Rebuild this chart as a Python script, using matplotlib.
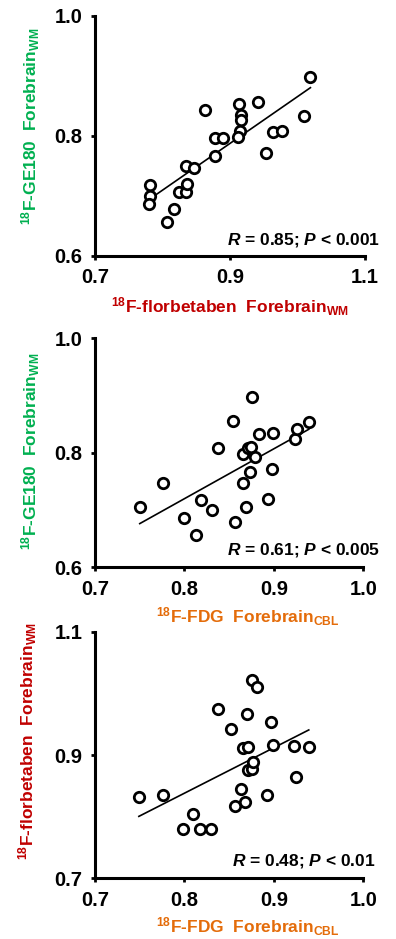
import numpy as np
import matplotlib
matplotlib.use('Agg')
from matplotlib import pyplot as plt

plt.rcParams['font.family'] = ['Liberation Sans', 'DejaVu Sans']
plt.rcParams['font.weight'] = 'bold'
plt.rcParams['mathtext.fontset'] = 'custom'
plt.rcParams['mathtext.rm'] = 'Liberation Sans:bold'
plt.rcParams['mathtext.bf'] = 'Liberation Sans:bold'
plt.rcParams['mathtext.it'] = 'Liberation Sans:italic:bold'

GREEN = '#00B050'
RED = '#C00000'
ORANGE = '#E46C0A'

# Panel 1: florbetaben vs GE180
fbb_wm = [0.781, 0.781, 0.780, 0.806, 0.817, 0.825, 0.834, 0.836, 0.834, 0.847,
          0.863, 0.877, 0.878, 0.890, 0.913, 0.916, 0.916, 0.915, 0.911, 0.941,
          0.953, 0.964, 0.977, 1.010, 1.019]
ge_wm_1 = [0.718, 0.700, 0.686, 0.657, 0.678, 0.706, 0.706, 0.720, 0.750, 0.746,
           0.843, 0.767, 0.797, 0.796, 0.853, 0.835, 0.827, 0.809, 0.799, 0.857,
           0.771, 0.807, 0.808, 0.834, 0.898]

# Panel 2: FDG vs GE180
fdg_2 = [0.750, 0.776, 0.799, 0.813, 0.818, 0.831, 0.838, 0.854, 0.857, 0.865,
         0.869, 0.866, 0.871, 0.874, 0.879, 0.873, 0.876, 0.883, 0.893, 0.898,
         0.899, 0.924, 0.926, 0.939]
ge_wm_2 = [0.706, 0.748, 0.686, 0.656, 0.717, 0.700, 0.809, 0.856, 0.679, 0.747,
           0.706, 0.798, 0.808, 0.811, 0.793, 0.766, 0.897, 0.833, 0.720, 0.771,
           0.835, 0.825, 0.841, 0.853]

# Panel 3: FDG vs florbetaben
fdg_3 = [0.749, 0.776, 0.798, 0.810, 0.817, 0.830, 0.838, 0.852, 0.857, 0.863,
         0.868, 0.865, 0.871, 0.870, 0.871, 0.875, 0.877, 0.875, 0.881, 0.892,
         0.897, 0.899, 0.923, 0.925, 0.939]
fbb_wm_3 = [0.832, 0.835, 0.780, 0.804, 0.780, 0.780, 0.975, 0.942, 0.817, 0.845,
            0.824, 0.911, 0.913, 0.966, 0.876, 0.877, 0.888, 1.022, 1.011, 0.835,
            0.953, 0.916, 0.915, 0.864, 0.913]

stats = ['$R$ = 0.85; $P$ < 0.001', '$R$ = 0.61; $P$ < 0.005', '$R$ = 0.48; $P$ < 0.01']

lbl_ge = (r'$^{18}$F-GE180  Forebrain$_{\mathrm{WM}}$', GREEN)
lbl_fbb = (r'$^{18}$F-florbetaben  Forebrain$_{\mathrm{WM}}$', RED)
lbl_fdg = (r'$^{18}$F-FDG  Forebrain$_{\mathrm{CBL}}$', ORANGE)

panels = [
    # x, y, rect, xticks, yticks, xlabel, ylabel, stat, stat pos, xlabel pos, ylabel pos
    (fbb_wm, ge_wm_1, [0.240, 0.7274, 0.682, 0.2556], [0.7, 0.9, 1.1], [0.6, 0.8, 1.0],
     lbl_fbb, lbl_ge, stats[0], (1.056, 0.046), (0.50, -0.165), (-0.24, 0.54)),
    (fdg_2, ge_wm_2, [0.240, 0.3958, 0.6775, 0.2439], [0.7, 0.8, 0.9, 1.0], [0.6, 0.8, 1.0],
     lbl_fdg, lbl_ge, stats[1], (1.062, 0.054), (0.57, -0.165), (-0.24, 0.506)),
    (fdg_3, fbb_wm_3, [0.240, 0.0646, 0.6775, 0.2626], [0.7, 0.8, 0.9, 1.0], [0.7, 0.9, 1.1],
     lbl_fdg, lbl_fbb, stats[2], (1.044, 0.054), (0.57, -0.15), (-0.25, 0.555)),
]

fig = plt.figure(figsize=(3.96, 9.39), dpi=100)

for x, y, rect, xt, yt, xl, yl, st, stpos, xlpos, ylpos in panels:
    ax = fig.add_axes(rect)
    x = np.array(x)
    y = np.array(y)
    ax.plot(x, y, 'o', ms=7.5, mfc='white', mec='black', mew=2.0, zorder=3)
    k, b = np.polyfit(x, y, 1)
    xs = np.array([x.min(), x.max()])
    ax.plot(xs, k * xs + b, color='black', lw=1.2, zorder=2)

    ax.set_xlim(xt[0], xt[-1])
    ax.set_ylim(yt[0], yt[-1])
    ax.set_xticks(xt)
    ax.set_yticks(yt)
    ax.set_xticklabels(['%.1f' % v for v in xt])
    ax.set_yticklabels(['%.1f' % v for v in yt])
    for s in ['top', 'right']:
        ax.spines[s].set_visible(False)
    for s in ['left', 'bottom']:
        ax.spines[s].set_linewidth(2.2)
    ax.tick_params(direction='out', length=3, width=2, labelsize=14.5, pad=6)

    ax.set_xlabel(xl[0], color=xl[1], fontsize=12.5, fontweight='bold')
    ax.xaxis.set_label_coords(*xlpos)
    ax.set_ylabel(yl[0], color=yl[1], fontsize=12.5, fontweight='bold')
    ax.yaxis.set_label_coords(*ylpos)
    ax.yaxis.label.set_va('center')

    ax.text(stpos[0], stpos[1], st, transform=ax.transAxes, ha='right', va='baseline',
            fontsize=12.5, fontweight='bold', clip_on=False)

fig.savefig('out.png', dpi=100)
